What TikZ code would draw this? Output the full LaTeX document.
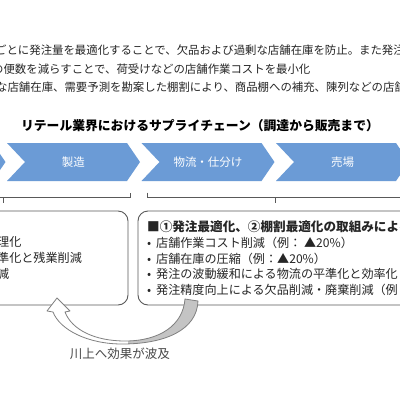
\documentclass[tikz,border=0pt]{standalone}
\usepackage{fontspec}
\setmainfont{Noto Sans CJK JP}
\usetikzlibrary{positioning,calc}
\definecolor{ao}{HTML}{6B9BD6}
\definecolor{sumi}{HTML}{262626}
\definecolor{hai}{HTML}{595959}
\definecolor{usuhai}{HTML}{C4C4C4}
\definecolor{senhai}{HTML}{808080}

% contorno de la flecha curva (hacia arriba)
\newcommand{\hakyupath}{(185,299) -- (198,301) .. controls (197,330) and (165,344) .. (122,344)
  .. controls (88,344) and (60,330) .. (53,312) -- (47,311) -- (57,298) -- (70,311) -- (65,312)
  .. controls (72,330) and (95,341) .. (125,341) .. controls (160,341) and (183,325) .. (185,299) -- cycle}

\begin{document}
\begin{tikzpicture}[x=1pt, y=-1pt, every node/.style={text=sumi, inner sep=0pt},
  linea/.style={anchor=west, font=\fontsize{11.4}{13}\selectfont},
  caja/.style={draw=hai, line width=0.9pt, rounded corners=10pt},
  llave/.style={draw=hai, line width=0.8pt},
  cuerpo/.style={anchor=west, font=\fontsize{12.1}{14}\selectfont},
  chev/.style={text=white, font=\fontsize{11.5}{13}\selectfont}]
\useasboundingbox (0,0) rectangle (400,400);
\clip (0,0) rectangle (400,400);
\fill[white] (0,0) rectangle (400,400);

% ================= texto superior =================
\node[linea] (l1) at (-5,50.5) {ごとに発注量を最適化することで、欠品および過剰な店舗在庫を防止。また発注};
\node[linea] (l2) at (-8,69) {の便数を減らすことで、荷受けなどの店舗作業コストを最小化};
\node[linea] (l3) at (-4,87.5) {な店舗在庫、需要予測を勘案した棚割により、商品棚への補充、陳列などの店舗};

% titulo
\node[font=\bfseries\fontsize{12.8}{14}\selectfont, text=black] (titulo) at (200,126) {リテール業界におけるサプライチェーン（調達から販売まで）};

% ================= cadena (chevrones) =================
\foreach \k in {0,...,3} {
  \pgfmathsetmacro{\xl}{7+134.5*(\k-1)}
  \fill[ao] (\xl,143) -- ++(120,0) -- ++(13,19) -- ++(-13,19) -- ++(-120,0) -- ++(18,-19) -- cycle;
}
\node[chev] (seizo) at (73.5,162) {製造};
\node[chev] (butsuryu) at (208,162) {物流・仕分け};
\node[chev] (uriba) at (342.5,162) {売場};

% llaves
\draw[llave] (-124,192.5) -- (-124,197.5) -- (130,197.5) -- (130,192.5);
\draw[llave] (3,197.5) -- (3,203);
\draw[llave] (147,192.5) -- (147,197.5) -- (403,197.5) -- (403,192.5);
\draw[llave] (275,197.5) -- (275,203);

% ================= cajas =================
\draw[caja] (-40,211) rectangle (128,305);
\draw[caja] (138,211) rectangle (440,305);

\node[cuerpo] (iz1) at (-3,242) {理化};
\node[cuerpo] (iz2) at (-3,258) {準化と残業削減};
\node[cuerpo] (iz3) at (-3,273.5) {減};

\node[cuerpo, font=\bfseries\fontsize{12.6}{14}\selectfont] (cab) at (147,227) {■①発注最適化、②棚割最適化の取組みによる効果};
\node[cuerpo] (de1) at (147,243) {\makebox[9pt][l]{•}店舗作業コスト削減（例： ▲20\%）};
\node[cuerpo] (de2) at (147,258.5) {\makebox[9pt][l]{•}店舗在庫の圧縮（例：▲20\%）};
\node[cuerpo] (de3) at (147,274) {\makebox[9pt][l]{•}発注の波動緩和による物流の平準化と効率化};
\node[cuerpo] (de4) at (147,289.5) {\makebox[9pt][l]{•}発注精度向上による欠品削減・廃棄削減（例};

% ================= flecha curva =================
\fill[white] \hakyupath;
\begin{scope}
\clip (128,280) rectangle (210,360);
\fill[usuhai] \hakyupath;
\end{scope}
\draw[senhai, line width=0.8pt, line join=round] \hakyupath;

\node[font=\fontsize{12.5}{14}\selectfont, text=sumi!85] (hakyu) at (120,354) {川上へ効果が波及};

\end{tikzpicture}
\end{document}
